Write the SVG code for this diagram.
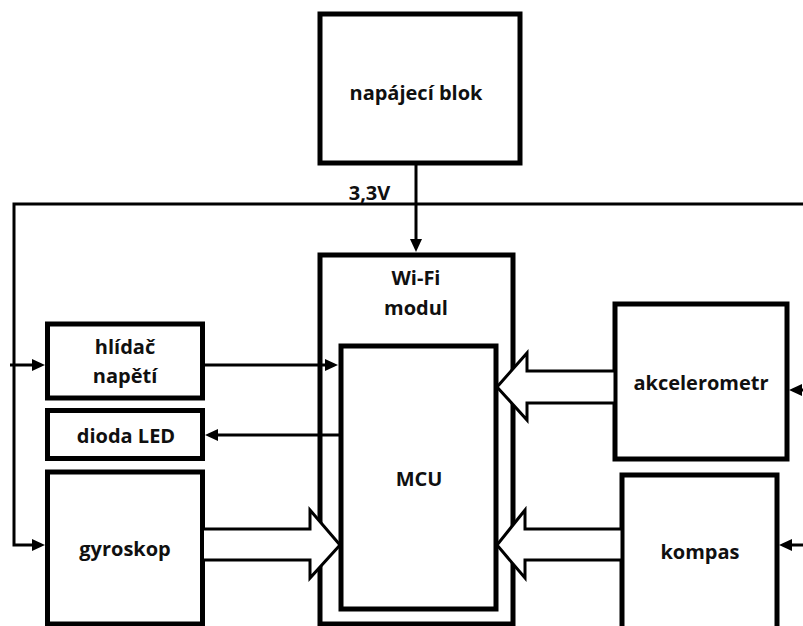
<svg xmlns="http://www.w3.org/2000/svg" width="803" height="626" viewBox="0 0 803 626">
  <style>
    .box { fill: #ffffff; stroke: #000000; stroke-width: 5; }
    .wire { fill: none; stroke: #000000; stroke-width: 3; }
    .bus { fill: #ffffff; stroke: #000000; stroke-width: 3; stroke-linejoin: miter; }
    .lbl { font-family: "Open Sans", "Noto Sans", "DejaVu Sans", sans-serif; font-weight: 700; font-size: 20px; fill: #101010; text-anchor: middle; }
  </style>
  <defs>
    <marker id="arr" markerUnits="userSpaceOnUse" markerWidth="14" markerHeight="13" refX="5" refY="6" orient="auto">
      <path d="M0,0 L13,6 L0,12 z" fill="#000000"/>
    </marker>
  </defs>
  <rect width="803" height="626" fill="#ffffff"/>

  <g id="napajeci-blok">
    <rect class="box" x="320" y="14" width="200" height="149"/>
    <text class="lbl" x="416" y="100">napájecí blok</text>
  </g>
  <g id="wifi-modul">
    <rect class="box" x="320" y="255" width="193" height="369"/>
    <text class="lbl" x="416" y="285">Wi-Fi</text>
    <text class="lbl" x="416" y="315">modul</text>
  </g>
  <g id="mcu">
    <rect class="box" x="341" y="346" width="155" height="263"/>
    <text class="lbl" x="419" y="486">MCU</text>
  </g>
  <g id="hlidac-napeti">
    <rect class="box" x="47.5" y="324" width="155" height="74"/>
    <text class="lbl" x="125" y="354">hlídač</text>
    <text class="lbl" x="125" y="383">napětí</text>
  </g>
  <g id="dioda-led">
    <rect class="box" x="47.5" y="410.5" width="155" height="48"/>
    <text class="lbl" x="126" y="443">dioda LED</text>
  </g>
  <g id="gyroskop">
    <rect class="box" x="47.5" y="472" width="155" height="152"/>
    <text class="lbl" x="125" y="556">gyroskop</text>
  </g>
  <g id="akcelerometr">
    <rect class="box" x="615" y="304" width="172" height="155"/>
    <text class="lbl" x="701" y="390">akcelerometr</text>
  </g>
  <g id="kompas">
    <rect class="box" x="622" y="475" width="155" height="175"/>
    <text class="lbl" x="700" y="559">kompas</text>
  </g>

  <g id="connectors">
    <!-- 3,3V rail -->
    <polyline class="wire" points="803,204 14,204 14,545 37,545" marker-end="url(#arr)"/>
    <line class="wire" x1="10" y1="365" x2="37" y2="365" marker-end="url(#arr)"/>
    <text class="lbl" x="369.5" y="200">3,3V</text>
    <!-- power to Wi-Fi -->
    <line class="wire" x1="416" y1="163" x2="416" y2="244" marker-end="url(#arr)"/>
    <!-- hlidac to MCU -->
    <line class="wire" x1="202" y1="365" x2="330" y2="365" marker-end="url(#arr)"/>
    <!-- MCU to dioda -->
    <line class="wire" x1="341" y1="435" x2="213" y2="435" marker-end="url(#arr)"/>
    <!-- external inputs on right -->
    <line class="wire" x1="803" y1="390" x2="797" y2="390" marker-end="url(#arr)"/>
    <line class="wire" x1="803" y1="545" x2="787" y2="545" marker-end="url(#arr)"/>
    <!-- hollow bus arrows -->
    <polygon class="bus" points="202.5,529 310,529 310,510 340,545 310,578 310,560 202.5,560"/>
    <polygon class="bus" points="615,371 527,371 527,353 497,387 527,420 527,403 615,403"/>
    <polygon class="bus" points="622,529 525,529 525,510 497,545 525,578 525,560 622,560"/>
  </g>
</svg>
